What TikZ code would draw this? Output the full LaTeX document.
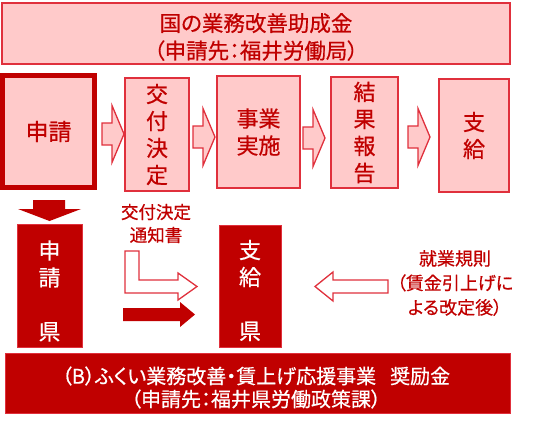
\documentclass[tikz,border=0pt]{standalone}
\usepackage{fontspec}
\setmainfont{Noto Sans CJK JP}[RawFeature={+palt}, FakeBold=0.6]
\definecolor{dred}{HTML}{C00000}
\definecolor{pinkf}{HTML}{FFCACA}
\definecolor{pinkb}{HTML}{E0303C}
\begin{document}
\begin{tikzpicture}[x=1pt,y=-1pt,
  pbox/.style={draw=pinkb, fill=pinkf, line width=1.3pt, text=dred, align=center, inner sep=0pt,
    font=\fontsize{22}{27}\selectfont},
  dbox/.style={draw=pinkb, fill=dred, line width=0.8pt, inner sep=0pt},
  dtext/.style={text=white, align=center, inner sep=0pt, font=\fontsize{22}{27}\selectfont},
  ptext/.style={text=dred, align=center, inner sep=0pt},
  openarr/.style={draw=pinkb, fill=pinkf, line width=1.3pt, line join=miter},
  whitearr/.style={draw=pinkb, fill=white, line width=1.3pt, line join=miter},
  solidarr/.style={fill=dred},
  lbl/.style={text=dred, align=center, inner sep=0pt, font=\fontsize{18}{24.5}\selectfont}]
\useasboundingbox (0,0) rectangle (534,420);

% top row
\node[pbox, minimum width=508pt, minimum height=61pt] (title) at (256,33.5) {};
\node[ptext, font=\fontsize{21.5}{27.5}\selectfont] (titleT) at (256,37) {国の業務改善助成金\\（申請先：福井労働局）};
\node[pbox, draw=dred, line width=5pt, minimum width=92pt, minimum height=112pt,
  font=\fontsize{23}{27}\selectfont] (shinsei) at (48.5,131.5) {申請};
\node[pbox, minimum width=64pt, minimum height=113pt] (koufu) at (157,134.5) {交\\付\\決\\定};
\node[pbox, minimum width=83pt, minimum height=112pt] (jigyou) at (258.5,132) {事業\\実施};
\node[pbox, minimum width=67pt, minimum height=111pt] (kekka) at (364.5,132.5) {結\\果\\報\\告};
\node[pbox, minimum width=70pt, minimum height=113pt] (shikyu) at (474,135.5) {支\\給};

\newcommand\rblockarrow[4]{%
  \draw[openarr] ({#1},{#4-11}) -- ({#2},{#4-11}) -- ({#2},{#4-28.5}) -- ({#3},{#4})
    -- ({#2},{#4+28.5}) -- ({#2},{#4+11}) -- ({#1},{#4+11}) -- cycle;}
\rblockarrow{102}{112}{124}{134}
\rblockarrow{193}{203}{215}{137}
\rblockarrow{303}{313}{325}{138}
\rblockarrow{408}{418}{430}{137}

% bottom row
\fill[solidarr] (33,200) -- (65,200) -- (65,209) -- (81,209) -- (49.5,221) -- (18,209) -- (33,209) -- cycle;
\node[dbox, minimum width=65pt, minimum height=123pt] (shinken) at (49.5,285.5) {};
\node[dtext] (shinkenT) at (49.5,291) {申\\請\\[27pt]県};
\node[dbox, minimum width=62pt, minimum height=122pt] (shikyuken) at (250,286) {};
\node[dtext] (shikyukenT) at (250,290.5) {支\\給\\[27pt]県};

\node[lbl, font=\fontsize{17.5}{23}\selectfont] (tsuchi) at (156,223.5) {交付決定\\通知書};
\node[lbl] (kisoku) at (455,283) {就業規則\\（賃金引上げに\\よる改定後）};

\draw[whitearr] (125,251) -- (139,251) -- (139,280) -- (178,280) -- (178,273) -- (197,286.5)
  -- (178,300) -- (178,293) -- (125,293) -- cycle;
\fill[solidarr] (123,308) -- (180,308) -- (180,302) -- (195,314.5) -- (180,327) -- (180,321)
  -- (123,321) -- cycle;
\draw[whitearr] (388,280) -- (333,280) -- (333,272) -- (315,286.5) -- (333,301) -- (333,293)
  -- (388,293) -- cycle;

\node[dbox, minimum width=505pt, minimum height=60pt] (bar) at (257.5,383.5) {};
\node[dtext, font=\fontsize{20}{23}\selectfont] (barT) at (256,387.5)
  {（B）ふくい業務改善・賃上げ応援事業\hspace{0.7em}奨励金\\（申請先：福井県労働政策課）};
\end{tikzpicture}
\end{document}
